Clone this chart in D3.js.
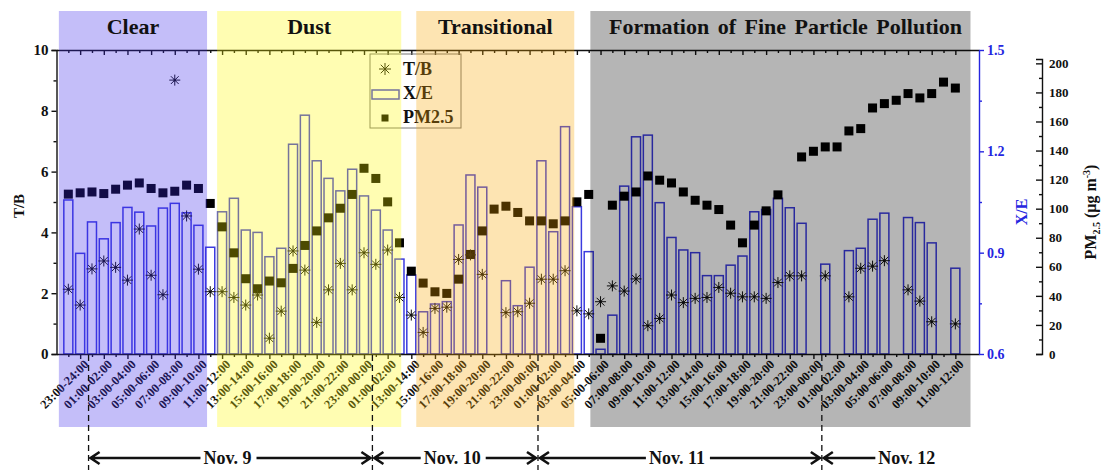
<!DOCTYPE html>
<html>
<head>
<meta charset="utf-8">
<script src="https://cdn.jsdelivr.net/npm/d3@7"></script>
<style>
  body { margin: 0; background: #fff; }
  svg { display: block; font-family: "Liberation Serif", "Times New Roman", serif; font-weight: bold; }
</style>
</head>
<body>
<svg id="chart" width="1106" height="470"></svg>
<script>
// hourly categories, 22:00 Nov 8 -> 12:00 Nov 12 (Nov 10 has a gap)
const hours = [
  "22:00-23:00", "23:00-24:00",
  "00:00-01:00", "01:00-02:00", "02:00-03:00", "03:00-04:00", "04:00-05:00", "05:00-06:00",
  "06:00-07:00", "07:00-08:00", "08:00-09:00", "09:00-10:00", "10:00-11:00", "11:00-12:00",
  "12:00-13:00", "13:00-14:00", "14:00-15:00", "15:00-16:00", "16:00-17:00", "17:00-18:00",
  "18:00-19:00", "19:00-20:00", "20:00-21:00", "21:00-22:00", "22:00-23:00", "23:00-00:00",
  "00:00-01:00", "01:00-02:00",
  "12:00-13:00", "13:00-14:00", "14:00-15:00", "15:00-16:00", "16:00-17:00", "17:00-18:00",
  "18:00-19:00", "19:00-20:00", "20:00-21:00", "21:00-22:00", "22:00-23:00", "23:00-00:00",
  "00:00-01:00", "01:00-02:00", "02:00-03:00", "03:00-04:00", "04:00-05:00", "05:00-06:00",
  "06:00-07:00", "07:00-08:00", "08:00-09:00", "09:00-10:00", "10:00-11:00", "11:00-12:00",
  "12:00-13:00", "13:00-14:00", "14:00-15:00", "15:00-16:00", "16:00-17:00", "17:00-18:00",
  "18:00-19:00", "19:00-20:00", "20:00-21:00", "21:00-22:00", "22:00-23:00", "23:00-00:00",
  "00:00-01:00", "01:00-02:00", "02:00-03:00", "03:00-04:00", "04:00-05:00", "05:00-06:00",
  "06:00-07:00", "07:00-08:00", "08:00-09:00", "09:00-10:00", "10:00-11:00", "11:00-12:00"
];

const tb = [
  2.13, 1.61, 2.80, 3.06, 2.85, 2.43, 4.11, 2.59, 1.95, 9.01,
  4.54, 2.79, 2.05, 2.05, 1.86, 1.61, 1.94, 0.52, 1.41, 3.39,
  2.76, 1.04, 2.11, 2.98, 2.11, 3.33, 2.95, 3.42, 1.86, 1.28,
  0.71, 1.50, 1.54, 3.11, 3.26, 2.62, null, 1.36, 1.39, 1.67,
  2.46, 2.46, 2.74, 1.42, 1.32, 1.72, 2.24, 2.07, 2.47, 0.93,
  1.17, 1.94, 1.69, 1.83, 1.86, 2.19, 2.00, 1.88, 1.88, 1.83,
  2.35, 2.57, 2.57, null, 2.57, null, 1.88, 2.82, 2.89, 3.07,
  null, 2.11, 1.74, 1.06, null, 0.99
];

const xe = [
  1.056, 0.898, 0.991, 0.941, 0.989, 1.034, 1.020, 0.979, 1.032, 1.046,
  1.018, 0.981, 0.916, 1.021, 1.061, 0.967, 0.960, 0.888, 0.913, 1.221,
  1.307, 1.172, 1.120, 1.083, 1.147, 1.068, 1.026, 0.967, 0.881, 0.834,
  0.725, 0.748, 0.755, 0.982, 1.130, 1.094, null, 0.817, 0.743, 0.857,
  1.172, 0.962, 1.273, 1.036, 0.903, 0.614, 0.715, 1.097, 1.243, 1.248,
  1.048, 0.945, 0.908, 0.900, 0.832, 0.832, 0.863, 0.890, 1.021, 1.028,
  1.061, 1.033, 0.987, null, 0.866, null, 0.906, 0.913, 0.999, 1.017,
  null, 1.004, 0.989, 0.929, null, 0.854
];

const pm = [
  110.0, 110.9, 111.5, 110.4, 113.4, 116.2, 117.7, 113.9, 110.9, 112.0,
  116.2, 113.9, 103.6, 87.5, 69.6, 51.8, 44.9, 50.2, 49.0, 58.9,
  74.7, 84.7, 93.7, 100.3, 109.8, 127.8, 120.8, 104.7, 76.5, 57.0,
  48.8, 42.8, 41.7, 51.5, 68.5, 84.7, 99.7, 101.7, 97.4, 91.6,
  91.6, 89.6, 91.6, 104.7, 109.8, 10.8, 102.4, 108.6, 111.5, 122.5,
  119.6, 117.7, 111.5, 105.8, 102.4, 99.4, 88.7, 76.5, 88.7, 98.5,
  109.5, null, 135.6, 139.5, 142.5, 142.5, 153.5, 155.1, 169.3, 172.3,
  174.6, 179.2, 176.2, 179.2, 187.1, 183.0
];

const tbTicks = [0, 2, 4, 6, 8, 10];
const xeTicks = [0.6, 0.9, 1.2, 1.5];
const pmTicks = [0, 20, 40, 60, 80, 100, 120, 140, 160, 180, 200];

const periodNames = ["Clear", "Dust", "Transitional", "Formation of Fine Particle Pollution"];
const periodSpans = [[-0.8, 11.73], [12.58, 28.15], [29.42, 42.78], [44.14, 76.28]]; // in category units
const dayNames = ["Nov. 9", "Nov. 10", "Nov. 11", "Nov. 12"];
const dayStarts = [1.5, 25.5, 39.5, 63.5];

const periodFill = ["rgba(60,40,235,0.3)", "rgba(255,250,0,0.3)", "rgba(250,165,0,0.3)", "rgba(0,0,0,0.29)"];
const blue = "#2626e0";
const barBlue = "#3b3bdf";

const svg = d3.select("#chart");
const x = d3.scaleLinear().domain([-1, 77]).range([56.5, 979]);
const yTB = d3.scaleLinear().domain([0, 10]).range([354, 50]);
const yXE = d3.scaleLinear().domain([0.6, 1.5]).range([354, 50]);
const yPM = d3.scaleLinear().domain([0, 203]).range([354, 59]);
const idx = d3.range(hours.length);
const odd = idx.filter(i => i % 2 === 1);
const even = idx.filter(i => i % 2 === 0);

const star = r => {
  const d = r * 0.707;
  return `M0,${-r}V${r}M${-r},0H${r}M${-d},${-d}L${d},${d}M${-d},${d}L${d},${-d}`;
};

function styleAxis(g, color, size) {
  g.attr("font-family", null).attr("font-size", size);
  g.selectAll("path, line").attr("stroke", color).attr("stroke-width", 1.4);
  g.selectAll("text").attr("fill", color).attr("font-weight", "bold");
}

// X/E bars
svg.append("g").selectAll("rect")
  .data(idx.filter(i => xe[i] != null))
  .join("rect")
  .attr("x", i => x(i) - 4.5)
  .attr("width", 9)
  .attr("y", i => yXE(xe[i]))
  .attr("height", i => yXE(0.6) - yXE(xe[i]))
  .attr("fill", "none")
  .attr("stroke", barBlue)
  .attr("stroke-width", 1.5);

// PM2.5 squares
svg.append("g").selectAll("rect")
  .data(idx.filter(i => pm[i] != null))
  .join("rect")
  .attr("x", i => x(i) - 4.5)
  .attr("y", i => yPM(pm[i]) - 4.5)
  .attr("width", 9)
  .attr("height", 9)
  .attr("fill", "#000");

// T/B asterisks
const stars = svg.append("g").selectAll("g")
  .data(idx.filter(i => tb[i] != null))
  .join("g")
  .attr("transform", i => `translate(${x(i)},${yTB(tb[i])})`);
stars.append("path").attr("d", star(5.5)).attr("stroke", "#111").attr("stroke-width", 1).attr("fill", "none");
stars.append("circle").attr("r", 1.3).attr("fill", "#111");

// left axis T/B
svg.append("g").attr("transform", "translate(56.5,0)")
  .call(d3.axisLeft(yTB).tickValues(tbTicks).tickSize(5).tickPadding(3))
  .call(g => styleAxis(g, "#111", 15));
svg.append("g").attr("transform", "translate(56.5,0)")
  .call(d3.axisLeft(yTB).tickValues([1, 3, 5, 7, 9]).tickSize(3).tickFormat(""))
  .call(g => g.select(".domain").remove())
  .call(g => styleAxis(g, "#111", 15));

// top axis, ticks inward
svg.append("g").attr("transform", "translate(0,50)")
  .call(d3.axisTop(x).tickValues(odd).tickSizeInner(-5).tickSizeOuter(0).tickFormat(""))
  .call(g => styleAxis(g, "#111", 12));
svg.append("g").attr("transform", "translate(0,50)")
  .call(d3.axisTop(x).tickValues(even).tickSizeInner(-3).tickSizeOuter(0).tickFormat(""))
  .call(g => g.select(".domain").remove())
  .call(g => styleAxis(g, "#111", 12));

// bottom axis
svg.append("g").attr("transform", "translate(0,354)")
  .call(d3.axisBottom(x).tickValues(odd).tickSize(5).tickSizeOuter(0).tickFormat(""))
  .call(g => styleAxis(g, "#111", 12));
svg.append("g").attr("transform", "translate(0,354)")
  .call(d3.axisBottom(x).tickValues(even).tickSize(3).tickSizeOuter(0).tickFormat(""))
  .call(g => g.select(".domain").remove())
  .call(g => styleAxis(g, "#111", 12));

svg.append("g").selectAll("text")
  .data(odd)
  .join("text")
  .attr("transform", i => `translate(${x(i) + 3},359) rotate(-45)`)
  .attr("text-anchor", "end")
  .attr("dy", "0.7em")
  .attr("font-size", 12.5)
  .attr("fill", "#111")
  .text(i => hours[i]);

// legend
const lg = svg.append("g");
lg.append("rect").attr("x", 370).attr("y", 54).attr("width", 91).attr("height", 74)
  .attr("fill", "none").attr("stroke", "#777").attr("stroke-width", 1);
lg.append("path").attr("transform", "translate(385,69)").attr("d", star(6))
  .attr("stroke", "#111").attr("stroke-width", 1).attr("fill", "none");
lg.append("rect").attr("x", 372).attr("y", 90).attr("width", 27).attr("height", 9)
  .attr("fill", "none").attr("stroke", barBlue).attr("stroke-width", 1.5);
lg.append("rect").attr("x", 381.5).attr("y", 114.5).attr("width", 7).attr("height", 7).attr("fill", "#000");
lg.selectAll("text.lab")
  .data(["T/B", "X/E", "PM2.5"])
  .join("text")
  .attr("x", 403)
  .attr("y", (d, k) => 75 + k * 24)
  .attr("font-size", 18)
  .attr("fill", "#111")
  .text(d => d);

// period shading on top (translucent, tints what lies below)
svg.append("g").selectAll("rect")
  .data(periodSpans)
  .join("rect")
  .attr("x", d => x(d[0]))
  .attr("width", d => x(d[1]) - x(d[0]))
  .attr("y", 11)
  .attr("height", 416)
  .attr("fill", (d, k) => periodFill[k]);

svg.append("g").selectAll("text")
  .data(periodNames)
  .join("text")
  .attr("x", (d, k) => (x(periodSpans[k][0]) + x(periodSpans[k][1])) / 2 + (k === 3 ? 5 : 0))
  .attr("y", 34)
  .attr("text-anchor", "middle")
  .attr("font-size", 22)
  .attr("word-spacing", 3)
  .attr("fill", "#111")
  .text(d => d);

// right axis X/E (blue)
svg.append("g").attr("transform", "translate(979,0)")
  .call(d3.axisRight(yXE).tickValues(xeTicks).tickSize(5).tickSizeOuter(0).tickPadding(3).tickFormat(d3.format(".1f")))
  .call(g => styleAxis(g, blue, 14));
svg.append("g").attr("transform", "translate(979,0)")
  .call(d3.axisRight(yXE).tickValues([0.75, 1.05, 1.35]).tickSize(3).tickFormat(""))
  .call(g => g.select(".domain").remove())
  .call(g => styleAxis(g, blue, 14));

// PM2.5 axis, ticks point left, labels to the right
svg.append("g").attr("transform", "translate(1042,0)")
  .call(d3.axisRight(yPM).tickValues(pmTicks).tickSizeInner(-6).tickSizeOuter(-6).tickPadding(7))
  .call(g => styleAxis(g, "#111", 13));
svg.append("g").attr("transform", "translate(1042,0)")
  .call(d3.axisRight(yPM).tickValues(d3.range(10, 200, 20)).tickSizeInner(-3).tickFormat(""))
  .call(g => g.select(".domain").remove())
  .call(g => styleAxis(g, "#111", 13));

// axis titles
svg.append("text").attr("transform", "translate(24,206) rotate(-90)")
  .attr("text-anchor", "middle").attr("font-size", 15).attr("fill", "#111").text("T/B");
svg.append("text").attr("transform", "translate(1027,212) rotate(-90)")
  .attr("text-anchor", "middle").attr("font-size", 16).attr("fill", blue).text("X/E");
const pmTitle = svg.append("text").attr("transform", "translate(1096,212) rotate(-90)")
  .attr("text-anchor", "middle").attr("font-size", 16).attr("fill", "#111");
pmTitle.append("tspan").text("PM");
pmTitle.append("tspan").attr("font-size", 10).attr("dy", 4).text("2.5");
pmTitle.append("tspan").attr("dy", -4).text(" (\u03bcg m");
pmTitle.append("tspan").attr("font-size", 10).attr("dy", -6).text("-3");
pmTitle.append("tspan").attr("dy", 6).text(")");

// day markers
const dayX = dayStarts.map(b => x(b) + 2.5);
svg.append("g").selectAll("line")
  .data(dayX)
  .join("line")
  .attr("x1", d => d).attr("x2", d => d)
  .attr("y1", 355).attr("y2", 470)
  .attr("stroke", "#111").attr("stroke-width", 1.3).attr("stroke-dasharray", "6,4");

const ay = 458;
const arrows = svg.append("g").attr("stroke", "#111").attr("stroke-width", 2.6).attr("fill", "none");
dayNames.forEach((name, k) => {
  const a = dayX[k];
  const b = k < dayX.length - 1 ? dayX[k + 1] : null;
  const cx = b != null ? (a + b) / 2 - 3 : a + 85;
  const t = svg.append("text").attr("x", cx).attr("y", ay + 6).attr("text-anchor", "middle")
    .attr("font-size", 18).attr("fill", "#111").text(name);
  const w = t.node().getComputedTextLength();
  const left = cx - w / 2 - 3, right = cx + w / 2 + 5;
  arrows.append("path").attr("d", `M${a + 2},${ay}H${left}M${a + 11},${ay - 6}L${a + 2},${ay}L${a + 11},${ay + 6}`);
  if (b != null) {
    arrows.append("path").attr("d", `M${right},${ay}H${b - 2}M${b - 11},${ay - 6}L${b - 2},${ay}L${b - 11},${ay + 6}`);
  }
});
</script>
</body>
</html>
